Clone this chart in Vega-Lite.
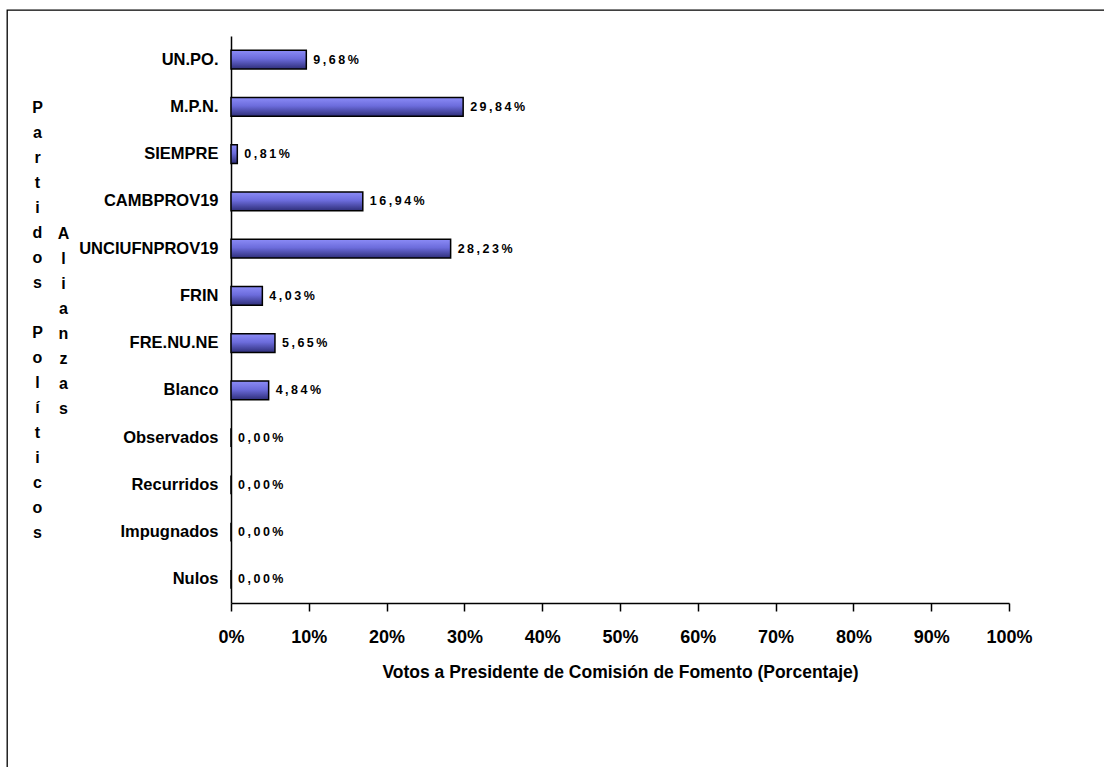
{
  "$schema": "https://vega.github.io/schema/vega-lite/v6.json",
  "autosize": {"type": "none"},
  "padding": {"left": 7, "top": 10, "right": 0, "bottom": 0},
  "width": 1120,
  "height": 780,
  "background": "white",
  "config": {
    "view": {"stroke": "black", "strokeWidth": 1.3},
    "font": "Liberation Sans",
    "axis": {"grid": false}
  },
  "data": {
    "values": [
      {"party": "UN.PO.", "pct": 9.68},
      {"party": "M.P.N.", "pct": 29.84},
      {"party": "SIEMPRE", "pct": 0.81},
      {"party": "CAMBPROV19", "pct": 16.94},
      {"party": "UNCIUFNPROV19", "pct": 28.23},
      {"party": "FRIN", "pct": 4.03},
      {"party": "FRE.NU.NE", "pct": 5.65},
      {"party": "Blanco", "pct": 4.84},
      {"party": "Observados", "pct": 0},
      {"party": "Recurridos", "pct": 0},
      {"party": "Impugnados", "pct": 0},
      {"party": "Nulos", "pct": 0}
    ]
  },
  "transform": [
    {"calculate": "join(split(replace(format(datum.pct, '.2f'), '.', ',') + '%', ''), '\u2009')", "as": "label"}
  ],
  "encoding": {
    "x": {
      "field": "pct",
      "type": "quantitative",
      "scale": {"domain": [0, 100], "range": [224, 1002], "nice": false},
      "axis": {
        "orient": "bottom",
        "offset": -187,
        "values": [0, 10, 20, 30, 40, 50, 60, 70, 80, 90, 100],
        "labelExpr": "datum.value + '%'",
        "labelFontSize": 18,
        "labelFontWeight": "bold",
        "labelColor": "black",
        "labelPadding": 17,
        "labelFlush": false,
        "labelOverlap": false,
        "tickSize": 8,
        "tickColor": "black",
        "tickWidth": 1.5,
        "domainColor": "black",
        "domainWidth": 1.5,
        "title": "Votos a Presidente de Comisión de Fomento (Porcentaje)",
        "titleFontSize": 17.5,
        "titleFontWeight": "bold",
        "titleColor": "black",
        "titleBaseline": "alphabetic",
        "titleX": 613,
        "titleY": 74
      }
    }
  },
  "layer": [
    {
      "mark": {
        "type": "bar",
        "fill": {
          "gradient": "linear",
          "x1": 0, "y1": 0, "x2": 0, "y2": 1,
          "stops": [
            {"offset": 0, "color": "#8c8cf7"},
            {"offset": 0.45, "color": "#6c6cdc"},
            {"offset": 1, "color": "#2e2e78"}
          ]
        },
        "stroke": "black",
        "strokeWidth": 1.5
      },
      "encoding": {
        "y": {
          "field": "party",
          "type": "nominal",
          "sort": null,
          "scale": {"range": [26, 593], "paddingInner": 0.6, "paddingOuter": 0.3},
          "axis": {
            "orient": "left",
            "offset": -224,
            "ticks": false,
            "labelFontSize": 16.5,
            "labelFontWeight": "bold",
            "labelColor": "black",
            "labelPadding": 13,
            "labelLimit": 0,
            "domainColor": "black",
            "domainWidth": 1.5,
            "title": ["A", "l", "i", "a", "n", "z", "a", "s"],
            "titleAngle": 0,
            "titleAlign": "center",
            "titleBaseline": "middle",
            "titleX": -168,
            "titleY": 223,
            "titleLineHeight": 25,
            "titleFontSize": 16,
            "titleFontWeight": "bold",
            "titleColor": "black"
          }
        }
      }
    },
    {
      "mark": {
        "type": "text",
        "align": "left",
        "baseline": "middle",
        "dx": 7,
        "fontSize": 12.5,
        "fontWeight": "bold",
        "color": "black"
      },
      "encoding": {
        "text": {"field": "label"},
        "y": {
          "field": "party",
          "type": "nominal",
          "sort": null,
          "scale": {"range": [26, 593], "paddingInner": 0.6, "paddingOuter": 0.3},
          "axis": {
            "orient": "left",
            "offset": -224,
            "ticks": false,
            "labels": false,
            "domain": false,
            "title": ["P", "a", "r", "t", "i", "d", "o", "s", "\u200b", "P", "o", "l", "í", "t", "i", "c", "o", "s"],
            "titleAngle": 0,
            "titleAlign": "center",
            "titleBaseline": "middle",
            "titleX": -194,
            "titleY": 97,
            "titleLineHeight": 25,
            "titleFontSize": 16,
            "titleFontWeight": "bold",
            "titleColor": "black"
          }
        }
      }
    }
  ],
  "resolve": {"axis": {"y": "independent"}}
}
